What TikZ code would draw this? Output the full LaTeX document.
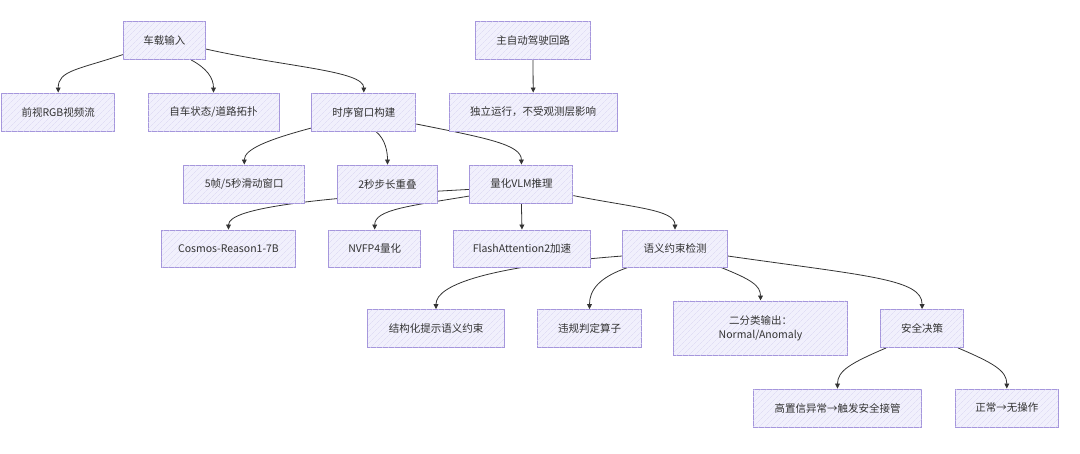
\documentclass[tikz,border=0pt]{standalone}
\usepackage{fontspec}
\setmainfont{Noto Sans CJK SC}
\usetikzlibrary{arrows.meta,patterns.meta}
\definecolor{boxfill}{HTML}{F1F0FC}
\definecolor{hatchc}{HTML}{D9D5F2}
\definecolor{boxline}{HTML}{A596DC}
\definecolor{edgec}{HTML}{333333}
\definecolor{txt}{HTML}{333333}
\pgfdeclarelayer{edges}
\pgfsetlayers{edges,main}
\begin{document}
\begin{tikzpicture}[x=1pt,y=-1pt,
  box/.style={draw=boxline,line width=0.9pt,fill=boxfill,
    postaction={pattern={Lines[angle=45,distance=4pt,line width=0.35pt]},pattern color=hatchc},
    inner sep=0pt,minimum height=38pt,text=txt,font=\fontsize{10.5}{14}\selectfont,align=center},
  conn/.style={draw=edgec,line width=0.8pt,-{Triangle[length=5pt,width=4.8pt]}}]
\useasboundingbox (0,0) rectangle (1080,453);
% row 1
\node[box,minimum width=82pt] (in) at (164.3,40.6) {车载输入};
\node[box,minimum width=115pt] (main) at (533,40.6) {主自动驾驶回路};
% row 2
\node[box,minimum width=113pt] (rgb) at (58.2,112) {前视RGB视频流};
\node[box,minimum width=131pt] (ego) at (213.5,112) {自车状态/道路拓扑};
\node[box,minimum width=104pt] (win) at (363.8,112) {时序窗口构建};
\node[box,minimum width=168pt] (indep) at (533.2,112) {独立运行，不受观测层影响};
% row 3
\node[box,minimum width=121pt] (f5) at (244.3,184) {5帧/5秒滑动窗口};
\node[box,minimum width=99.5pt] (s2) at (387.5,184) {2秒步长重叠};
\node[box,minimum width=103pt] (vlm) at (521.4,184) {量化VLM推理};
% row 4
\node[box,minimum width=134pt,minimum height=37pt] (cos) at (228.5,248.5) {Cosmos-Reason1-7B};
\node[box,minimum width=91.6pt,minimum height=37pt] (nv) at (374.7,248.5) {NVFP4量化};
\node[box,minimum width=137.4pt,minimum height=37pt] (fa) at (522,248.5) {FlashAttention2加速};
\node[box,minimum width=104.7pt,minimum height=37pt] (sem) at (675,248.5) {语义约束检测};
% row 5
\node[box,minimum width=136.3pt] (struct) at (436,328.5) {结构化提示语义约束};
\node[box,minimum width=104.7pt] (viol) at (589.5,328.5) {违规判定算子};
\node[box,minimum width=174pt,minimum height=54.7pt] (bin) at (760.5,328.3) {二分类输出：\\Normal/Anomaly};
\node[box,minimum width=83pt] (safe) at (922.1,328.5) {安全决策};
% row 6
\node[box,minimum width=168.7pt] (high) at (837.5,408) {高置信异常→触发安全接管};
\node[box,minimum width=103pt] (norm) at (1006.8,408) {正常→无操作};

\begin{pgfonlayer}{edges}
\draw[conn] ([yshift=-14pt]in.west) .. controls +(-45,15) and +(0,-22) .. (rgb.north);
\draw[conn] ([xshift=27pt]in.south) .. controls +(15,8) and +(0,-15) .. (ego.north);
\draw[conn] ([yshift=-8.4pt]in.east) .. controls +(80,18) and +(0,-22) .. (win.north);
\draw[conn] (main.south) -- (indep.north);
\draw[conn] ([yshift=-16pt]win.west) .. controls +(-45,12) and +(0,-15) .. (f5.north);
\draw[conn] ([xshift=12pt]win.south) .. controls +(10,8) and +(0,-12) .. (s2.north);
\draw[conn] ([yshift=-12pt]win.east) .. controls +(70,14) and +(0,-20) .. (vlm.north);
\draw[conn] ([yshift=-5.4pt]vlm.west) .. controls +(-150,8) and +(0,-22) .. (cos.north);
\draw[conn] ([yshift=-12pt]vlm.west) .. controls +(-60,10) and +(0,-20) .. (nv.north);
\draw[conn] (vlm.south) -- (fa.north);
\draw[conn] ([yshift=-11.6pt]vlm.east) .. controls +(60,12) and +(0,-20) .. (sem.north);
\draw[conn] ([yshift=-7.5pt]sem.west) .. controls +(-130,10) and +(0,-25) .. (struct.north);
\draw[conn] ([xshift=-47pt]sem.south) .. controls +(-30,10) and +(0,-18) .. (viol.north);
\draw[conn] ([xshift=46pt]sem.south) .. controls +(30,12) and +(0,-15) .. (bin.north);
\draw[conn] ([yshift=-7.5pt]sem.east) .. controls +(140,20) and +(0,-30) .. (safe.north);
\draw[conn] ([xshift=-36pt]safe.south) .. controls +(-35,15) and +(0,-18) .. (high.north);
\draw[conn] ([xshift=36pt]safe.south) .. controls +(35,15) and +(0,-18) .. (norm.north);
\end{pgfonlayer}
\end{tikzpicture}
\end{document}
